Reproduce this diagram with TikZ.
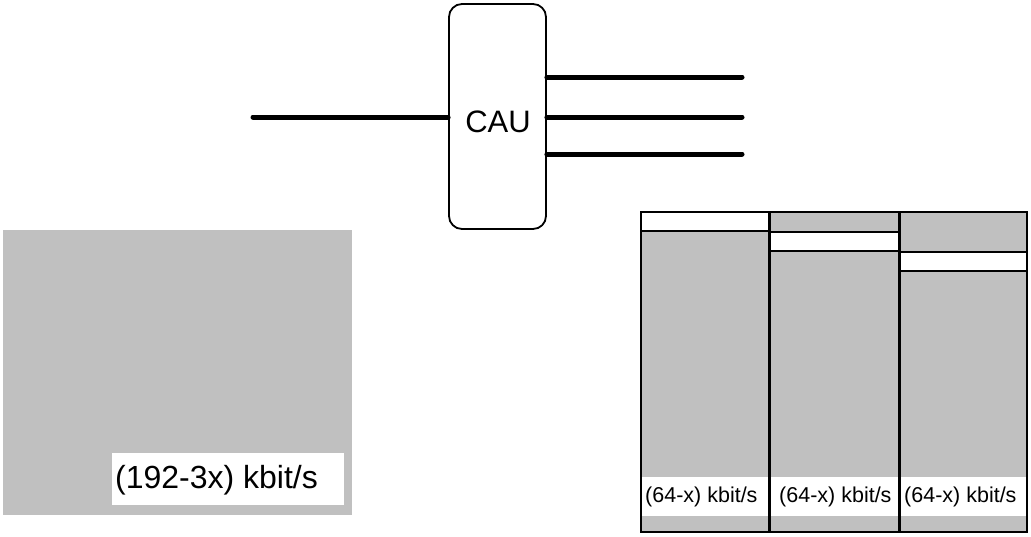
\documentclass[tikz,border=0pt]{standalone}
\usepackage{fontspec}
\setmainfont{Liberation Sans}
\definecolor{panelgray}{HTML}{C0C0C0}
\begin{document}
\begin{tikzpicture}[x=1pt,y=-1pt,
  wire/.style={line width=5pt,line cap=round},
  colbox/.style={draw=black,line width=2pt,fill=panelgray},
  slotbox/.style={draw=black,line width=2pt,fill=white},
  labtext/.style={inner sep=0pt,anchor=west,font=\fontsize{21.5}{25}\selectfont},
]
\useasboundingbox (0,0) rectangle (1031,536);
% CAU
\node[draw,line width=1.8pt,rounded corners=13pt,minimum width=97pt,minimum height=225pt,inner sep=0pt] (cau) at (497.5,116.5) {};
\node[inner sep=0pt,font=\fontsize{31}{36}\selectfont] (caulabel) at (498,122) {CAU};
\coordinate (inL) at (253,117);
\coordinate (o1) at (742,77);
\coordinate (o2) at (742,117);
\coordinate (o3) at (742,154);
\draw[wire] (inL) -- (inL -| cau.west);
\draw[wire] (o1 -| cau.east) -- (o1);
\draw[wire] (o2 -| cau.east) -- (o2);
\draw[wire] (o3 -| cau.east) -- (o3);
% left panel
\fill[panelgray] (3,230) rectangle (352,515);
\fill[white] (112,453) rectangle (344,505);
\node[inner sep=0pt,anchor=west,font=\fontsize{32}{38}\selectfont] (biglab) at (115,480) {(192-3x) kbit/s};
% right panel columns
\draw[colbox] (641,212) rectangle (769,532);
\draw[colbox] (770,212) rectangle (899,532);
\draw[colbox] (900,212) rectangle (1027,532);
\draw[slotbox] (641,212) rectangle (769,231);
\draw[slotbox] (770,232) rectangle (899,251);
\draw[slotbox] (900,252) rectangle (1027,271);
\fill[white] (642,477) rectangle (768,516);
\fill[white] (771,477) rectangle (898,516);
\fill[white] (901,477) rectangle (1026,516);
\node[labtext] (l1) at (645,497) {(64-x) kbit/s};
\node[labtext] (l2) at (779,497) {(64-x) kbit/s};
\node[labtext] (l3) at (904,497) {(64-x) kbit/s};
\end{tikzpicture}
\end{document}
